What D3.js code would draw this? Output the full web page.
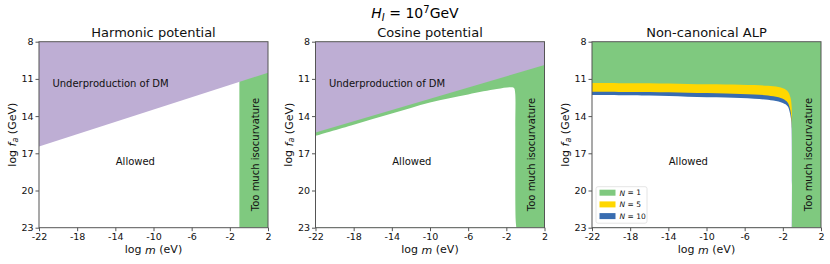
<!DOCTYPE html>
<html>
<head>
<meta charset="utf-8">
<script src="https://cdn.jsdelivr.net/npm/d3@7"></script>
<style>
  body { margin: 0; background: #fff; }
  svg { font-family: "DejaVu Sans", sans-serif; }
</style>
</head>
<body>
<svg id="drawing_region"></svg>
<script>
// axes
const xTicks = [-22, -18, -14, -10, -6, -2, 2];
const yTicks = [8, 11, 14, 17, 20, 23];
const panelTitles = ["Harmonic potential", "Cosine potential", "Non-canonical ALP"];

// harmonic potential: DM production edge, isocurvature limit in log m
const harmonicEdge = [[-22, 16.45], [2, 10.5]];
const harmonicIsoM = -1;

// cosine potential
const cosineEdge = [[-22, 15.33], [2, 9.88]];
const cosineAllowed = [[-22, 15.6], [-18, 14.7], [-14, 13.8], [-10, 12.9], [-6, 12.25], [-3, 11.82],
    [-1.6, 11.68], [-1.2, 11.74], [-1.08, 12.1], [-1.06, 15], [-1.02, 22.4], [-0.95, 23]];

// non-canonical ALP, allowed-region edge for N = 1, 5, 10
const alpN = [1, 5, 10];
const alpN1 = [[-22, 11.33], [-16, 11.36], [-12, 11.41], [-8, 11.45], [-5, 11.5], [-3, 11.6], [-2, 11.75],
    [-1.5, 12.0], [-1.2, 12.5], [-1.07, 13.3], [-1.05, 14.5], [-1.05, 23]];
const alpN5 = [[-22, 12.03], [-16, 12.06], [-12, 12.11], [-8, 12.17], [-5, 12.25], [-3, 12.4], [-2, 12.6],
    [-1.5, 12.9], [-1.25, 13.4], [-1.12, 14.0], [-1.06, 15], [-1.05, 23]];
const alpN10 = [[-22, 12.3], [-16, 12.34], [-12, 12.43], [-8, 12.5], [-5, 12.6], [-3, 12.75], [-2, 12.95],
    [-1.5, 13.2], [-1.3, 13.6], [-1.15, 14.2], [-1.08, 15], [-1.05, 23]];

const col = { purple: "#beaed4", green: "#7fc97f", yellow: "#ffd700", blue: "#386cb0", frame: "#555" };

const config = {
    width: 830, height: 264,
    lefts: [39, 315.5, 592],
    top: 41.7, inner_width: 229, inner_height: 186
};

const svg = d3.select("#drawing_region")
    .attr("width", config.width)
    .attr("height", config.height);

const xscale = d3.scaleLinear().domain([-22, 2]).range([0, config.inner_width]);
const yscale = d3.scaleLinear().domain([8, 23]).range([0, config.inner_height]);

const area = d3.area()
    .x(d => xscale(d[0]))
    .y0(yscale(23))
    .y1(d => yscale(d[1]))
    .curve(d3.curveCatmullRom.alpha(0.5));

const topArea = d3.area()
    .x(d => xscale(d[0]))
    .y0(yscale(8))
    .y1(d => yscale(d[1]));

svg.append("text")
    .attr("x", config.width / 2).attr("y", 18)
    .attr("text-anchor", "middle")
    .style("font-size", "14px")
    .html('<tspan font-style="italic">H</tspan><tspan font-style="italic" font-size="10px" dy="3">I</tspan><tspan dy="-3"> = 10</tspan><tspan font-size="10px" dy="-5">7</tspan><tspan dy="5">GeV</tspan>');

panelTitles.forEach((title, i) => {
    const g = svg.append("g")
        .attr("transform", `translate(${config.lefts[i]}, ${config.top})`);

    g.append("clipPath").attr("id", "clip" + i)
        .append("rect").attr("width", config.inner_width).attr("height", config.inner_height);

    const plot = g.append("g").attr("clip-path", `url(#clip${i})`);

    if (i == 0) {
        plot.append("rect")
            .attr("x", xscale(harmonicIsoM)).attr("y", 0)
            .attr("width", xscale(2) - xscale(harmonicIsoM)).attr("height", config.inner_height)
            .attr("fill", col.green);
        plot.append("path").datum(harmonicEdge).attr("d", topArea).attr("fill", col.purple);
    } else if (i == 1) {
        plot.append("rect").attr("width", config.inner_width).attr("height", config.inner_height)
            .attr("fill", col.green);
        plot.append("path").datum(cosineAllowed).attr("d", area).attr("fill", "#fff");
        plot.append("path").datum(cosineEdge).attr("d", topArea).attr("fill", col.purple);
    } else {
        plot.append("rect").attr("width", config.inner_width).attr("height", config.inner_height)
            .attr("fill", col.green);
        plot.append("path").datum(alpN1).attr("d", area).attr("fill", col.yellow);
        plot.append("path").datum(alpN5).attr("d", area).attr("fill", col.blue);
        plot.append("path").datum(alpN10).attr("d", area).attr("fill", "#fff");
    }

    // labels inside
    if (i < 2) {
        g.append("text")
            .attr("x", xscale(-14.5)).attr("y", yscale(11.4))
            .attr("text-anchor", "middle").attr("dominant-baseline", "central")
            .style("font-size", "10px").attr("fill", "#111")
            .text("Underproduction of DM");
    }
    g.append("text")
        .attr("x", xscale(-11.9)).attr("y", yscale(17.7))
        .attr("text-anchor", "middle").attr("dominant-baseline", "central")
        .style("font-size", "10px").attr("fill", "#111")
        .text("Allowed");
    g.append("text")
        .attr("transform", `translate(${xscale(0.65)}, ${yscale(17.1)}) rotate(-90)`)
        .attr("text-anchor", "middle").attr("dominant-baseline", "central")
        .style("font-size", "10px").attr("fill", "#111")
        .text("Too much isocurvature");

    // legend
    if (i == 2) {
        const cols = [col.green, col.yellow, col.blue];
        const lg = g.append("g").attr("transform", "translate(4, 145)");
        lg.append("rect").attr("width", 51).attr("height", 36.5).attr("rx", 2)
            .attr("fill", "#fff").attr("stroke", "#ddd").attr("stroke-width", 0.8);
        alpN.forEach((n, k) => {
            lg.append("rect").attr("x", 3.5).attr("y", 3 + k * 11.7)
                .attr("width", 16).attr("height", 6).attr("fill", cols[k]);
            lg.append("text").attr("x", 23.5).attr("y", 6 + k * 11.7)
                .attr("dominant-baseline", "central")
                .style("font-size", "7.5px").attr("fill", "#111")
                .html(`<tspan font-style="italic">N</tspan> = ${n}`);
        });
    }

    // frame
    g.append("rect").attr("width", config.inner_width).attr("height", config.inner_height)
        .attr("fill", "none").attr("stroke", col.frame).attr("stroke-width", 1);

    const xaxis = d3.axisBottom(xscale).tickValues(xTicks).tickSize(3.5).tickPadding(2)
        .tickFormat(d => String(d));
    const yaxis = d3.axisLeft(yscale).tickValues(yTicks).tickSize(3.5).tickPadding(2)
        .tickFormat(d => String(d));

    const xg = g.append("g").attr("transform", `translate(0, ${config.inner_height})`).call(xaxis);
    const yg = g.append("g").call(yaxis);
    [xg, yg].forEach(a => {
        a.select(".domain").remove();
        a.selectAll("line").attr("stroke", col.frame);
        a.selectAll("text").style("font-size", "9.5px").attr("fill", "#111")
            .style("font-family", "DejaVu Sans");
    });

    // titles
    g.append("text")
        .attr("x", config.inner_width / 2).attr("y", -4.5)
        .attr("text-anchor", "middle")
        .style("font-size", "13px").attr("fill", "#111")
        .text(title);

    g.append("text")
        .attr("x", config.inner_width / 2).attr("y", config.inner_height + 22)
        .attr("text-anchor", "middle").attr("dominant-baseline", "central")
        .style("font-size", "11px").attr("fill", "#111")
        .html('log <tspan font-style="italic">m</tspan> (eV)');

    g.append("text")
        .attr("transform", `translate(-27, ${config.inner_height / 2}) rotate(-90)`)
        .attr("text-anchor", "middle").attr("dominant-baseline", "central")
        .style("font-size", "11px").attr("fill", "#111")
        .html('log <tspan font-style="italic">f</tspan><tspan font-style="italic" font-size="8px" dy="2.5">a</tspan><tspan dy="-2.5"> (GeV)</tspan>');
});
</script>
</body>
</html>
